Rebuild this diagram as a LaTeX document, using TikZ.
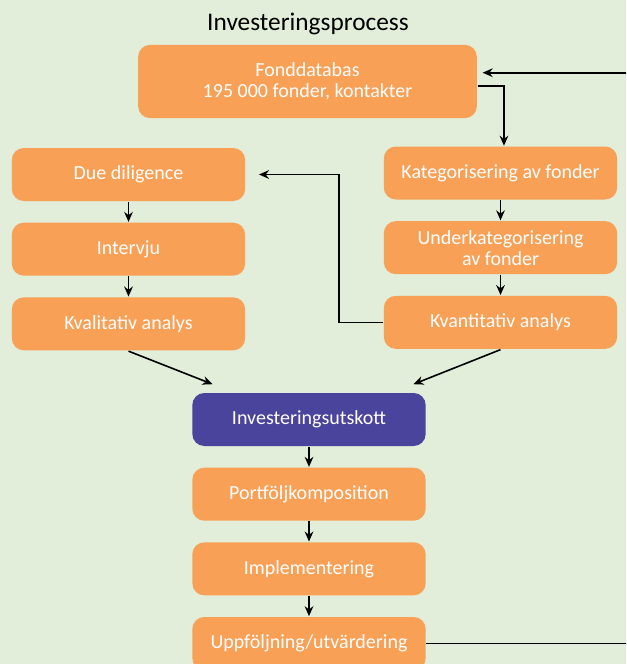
\documentclass[tikz,border=0pt]{standalone}
\usepackage{fontspec}
\setmainfont{Carlito}
\usetikzlibrary{positioning, arrows.meta}
\definecolor{boxorange}{HTML}{F8A055}
\definecolor{bggreen}{HTML}{E2EDDA}
\definecolor{boxpurple}{HTML}{4B449C}

\begin{document}
\begin{tikzpicture}[x=0.75pt,y=-0.75pt,->,>={Stealth[length=7.5pt,width=6.5pt]},line width=1.2pt,node distance=56pt]
\tikzstyle{box}=[rounded corners=9pt,fill=boxorange,draw=none,text=white,minimum width=175pt,minimum height=39.75pt,align=center,font=\fontsize{15}{15.75}\selectfont]
\path[-,use as bounding box,fill=bggreen] (0,0) rectangle (626,664);
\clip (0,0) rectangle (626,664);

\node (title) at (308,24) {\fontsize{19}{22}\selectfont Investeringsprocess};
\node[box,minimum width=254pt,minimum height=55pt] (fond) at (307.5,81.5) {Fonddatabas\\195 000 fonder, kontakter};

% vänster kolumn
\node[box] (dd) at (128.5,174.5) {Due diligence};
\node[box] (iv) [below of=dd] {Intervju};
\node[box] (kval) [below of=iv] {Kvalitativ analys};

% höger kolumn
\node[box] (kat) at (500.5,173) {Kategorisering av fonder};
\node[box] (under) [below of=kat] {Underkategorisering\\av fonder};
\node[box] (kvant) [below of=under] {Kvantitativ analys};

% mitten
\node[box,fill=boxpurple] (inv) at (309,419.5) {Investeringsutskott};
\node[box] (port) [below of=inv] {Portföljkomposition};
\node[box] (impl) [below of=port] {Implementering};
\node[box] (uppf) [below of=impl] {Uppföljning/utvärdering};

\coordinate (loop) at (660,0);

\path
(dd) edge (iv)
(iv) edge (kval)
(kat) edge (under)
(under) edge (kvant)
(inv) edge (port)
(port) edge (impl)
(impl) edge (uppf);

\draw ([yshift=-3.4pt]fond.east) -| ([xshift=2.6pt]kat.north);
\draw[shorten >=9.75pt] (kvant.west) -- ++(-44,0) |- (dd.east);
\draw (kval.south) -- ([xshift=15.75pt,yshift=6pt]inv.north west);
\draw (kvant.south) -- ([xshift=-9.75pt,yshift=6pt]inv.north east);
\draw[shorten >=3.75pt] (uppf.east) -- (uppf.east -| loop) |- ([yshift=6.6pt]fond.east);
\end{tikzpicture}
\end{document}
